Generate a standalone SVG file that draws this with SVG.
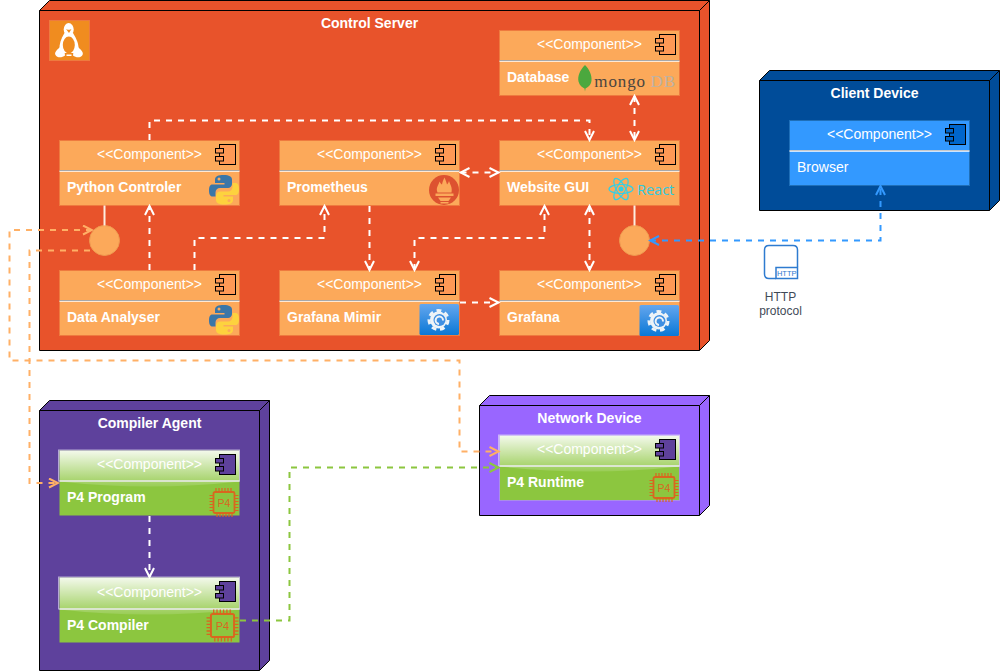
<svg xmlns="http://www.w3.org/2000/svg" width="1000" height="671" viewBox="0 0 1000 671">
<style>
text{font-family:"Liberation Sans",Arial,sans-serif;font-size:14px;fill:#fff}
.title{font-weight:bold;text-anchor:middle}
.stereo{text-anchor:middle}
.name{font-weight:bold}
.cube{stroke:#000;stroke-width:1;stroke-linejoin:miter}
.box{stroke-width:1}
.orange{fill:#fca95a;stroke:#ee7a3f}
.blue{fill:#3399ff;stroke:#1f6fb8}
.div{stroke:#a8a8a8;stroke-width:1}
.div2{stroke:#fff;stroke-width:1;opacity:.75}
.conn{fill:none;stroke-width:2;stroke-dasharray:6 6}
.w{stroke:#fff}.o{stroke:#ffb066}.b{stroke:#3399ff}.g{stroke:#8cc63f}
.lolli{fill:#fca95a;stroke:#ee9a50}
.stem{stroke:#fdeee0;stroke-width:2;fill:none}
</style>
<defs>
<marker id="aw" viewBox="-1 -1 13 11" refX="10" refY="4.500" markerWidth="13" markerHeight="11" markerUnits="userSpaceOnUse" orient="auto-start-reverse"><path d="M1 0L10 4.500L1 9" fill="none" stroke="#fff" stroke-width="2"/></marker>
<marker id="ao" viewBox="-1 -1 13 11" refX="10" refY="4.500" markerWidth="13" markerHeight="11" markerUnits="userSpaceOnUse" orient="auto-start-reverse"><path d="M1 0L10 4.500L1 9" fill="none" stroke="#ffb066" stroke-width="2"/></marker>
<marker id="ab" viewBox="-1 -1 13 11" refX="10" refY="4.500" markerWidth="13" markerHeight="11" markerUnits="userSpaceOnUse" orient="auto-start-reverse"><path d="M1 0L10 4.500L1 9" fill="none" stroke="#3399ff" stroke-width="2"/></marker>
<marker id="ag" viewBox="-1 -1 13 11" refX="10" refY="4.500" markerWidth="13" markerHeight="11" markerUnits="userSpaceOnUse" orient="auto-start-reverse"><path d="M1 0L10 4.500L1 9" fill="none" stroke="#8cc63f" stroke-width="2"/></marker>
<linearGradient id="glass" x1="0" y1="0" x2="0" y2="1"><stop offset="0" stop-color="#fff" stop-opacity=".9"/><stop offset="1" stop-color="#fff" stop-opacity=".12"/></linearGradient>
<linearGradient id="graf" x1="0" y1="0" x2="0" y2="1"><stop offset="0" stop-color="#64a6ee"/><stop offset="1" stop-color="#0a78d6"/></linearGradient>
<g id="icon"><rect x="160" y="4" width="16" height="20" stroke="#000" stroke-width="1"/><rect x="156" y="8" width="8" height="4.500" stroke="#000" stroke-width="1"/><rect x="156" y="16" width="8" height="4.500" stroke="#000" stroke-width="1"/></g>
<g id="python">
<path d="M15 0C9 0 6 1.300 6 4.500V8H15.500V9.500H3.500C.8 9.500 0 12 0 15.500S1 21.500 3.500 21.500H6.500V17.500C6.500 14.800 8.500 13 11 13H19C21.200 13 23 11.300 23 9V4.500C23 1.500 20 0 15 0Z" fill="#3a76a8"/>
<circle cx="10" cy="4" r="1.500" fill="#fca95a"/>
<path d="M15 29.500C21 29.500 24 28.200 24 25V21.500H14.500V20H26.500C29.200 20 30 17.500 30 14S29 8 26.500 8H23.500V12C23.500 14.700 21.500 16.500 19 16.500H11C8.800 16.500 7 18.200 7 20.500V25C7 28 10 29.500 15 29.500Z" fill="#fdd23e"/>
<circle cx="20" cy="25.500" r="1.500" fill="#fca95a"/>
</g>
<g id="grafana">
<rect width="39.500" height="31" rx="1.500" fill="url(#graf)"/>
<circle cx="19" cy="16" r="8.500" fill="#eef3f7"/>
<circle cx="19" cy="16" r="9.500" fill="none" stroke="#eef3f7" stroke-width="3" stroke-dasharray="4.800 3.700"/>
<circle cx="20" cy="16" r="6" fill="#3f8fe2"/>
<path d="M23.500 16.500A3.700 3.700 0 1 0 19.500 20" fill="none" stroke="#eef3f7" stroke-width="2"/>
</g>
<g id="chip">
<rect x="4.500" y="4.500" width="21" height="21" rx="1.500" fill="none" stroke="#d9661f" stroke-width="1.800"/>
<path d="M7 0.500V4M10 0.500V4M13 0.500V4M16 0.500V4M19 0.500V4M22 0.500V4M8 26V29.500M11 26V29.500M14 26V29.500M17 26V29.500M20 26V29.500M23 26V29.500M0.500 8H4M0.500 11H4M0.500 14H4M0.500 17H4M0.500 20H4M0.500 23H4M26 8H29.500M26 11H29.500M26 14H29.500M26 17H29.500M26 20H29.500M26 23H29.500" fill="none" stroke="#d9661f" stroke-width="1.200"/>
</g>
</defs>

<g id="control-server">
<path class="cube" fill="#e8532b" d="M39.500 10.500L49.500 .5H709.500V340.500L699.500 350.500H39.500Z"/>
<path class="cube" fill="none" d="M39.500 10.500H699.500V350.500M699.500 10.500L709.500 .5"/>
<text class="title" x="369.500" y="28">Control Server</text>
<g id="linux-logo">
<rect x="49.500" y="20.500" width="40" height="40" fill="#f08c1f" stroke="#ee7a3f"/>
<ellipse cx="68.700" cy="29.500" rx="5" ry="6.500" fill="#fff"/>
<path d="M64.500 33C61 39 59 44 59.500 50L64 53H74L78.500 50C79 44 76.500 39 73 33Z" fill="#fff"/>
<ellipse cx="68.800" cy="45" rx="6" ry="8.500" fill="#f08c1f"/>
<path d="M61 46C57 50 54 52 55.500 55C57 58 62 58 65 55.500C65 52 63 48 61 46Z" fill="#fff"/>
<path d="M77 46C81 50 84 52 82.500 55C81 58 76 58 73 55.500C73 52 75 48 77 46Z" fill="#fff"/>
<rect x="66.500" y="54.500" width="5" height="1.500" fill="#fff"/>
<path d="M66 29C67 30 70.500 30 71.500 29L69 33Z" fill="#f08c1f"/>
</g>
<g id="database" transform="translate(499.500 30.500)">
<rect class="box orange" width="180" height="65"/>
<line class="div" x1="0" x2="180" y1="30" y2="30"/><line class="div2" x1="0" x2="180" y1="31" y2="31"/>
<text class="stereo" x="90" y="18.500">&lt;&lt;Component&gt;&gt;</text>
<use href="#icon" fill="#ff9955"/>
<text class="name" x="7.500" y="51.500">Database</text>
<path d="M85.500 34.500C80 40 78 46 79 51C80 55 83 57 85 58L85.500 61L86 58C88 57 91.500 55 92 50C92.500 45 90 39 85.500 34.500Z" fill="#4ba83e"/>
<text x="94.800" y="56.500" style="font-family:'Liberation Serif',serif;font-size:17px;letter-spacing:.9px;fill:#4a4540">mongo</text>
<text x="151" y="56.500" style="font-family:'Liberation Serif',serif;font-size:17px;letter-spacing:.9px;fill:#bdb2a3">DB</text>
</g>
<g id="python-controler" transform="translate(59.500 140.500)">
<rect class="box orange" width="180" height="65"/>
<line class="div" x1="0" x2="180" y1="30" y2="30"/><line class="div2" x1="0" x2="180" y1="31" y2="31"/>
<text class="stereo" x="90" y="18.500">&lt;&lt;Component&gt;&gt;</text>
<use href="#icon" fill="#ff9955"/>
<text class="name" x="7.500" y="51.500">Python Controler</text>
<use href="#python" x="149.500" y="34.500"/>
</g>
<g id="prometheus" transform="translate(279.500 140.500)">
<rect class="box orange" width="180" height="65"/>
<line class="div" x1="0" x2="180" y1="30" y2="30"/><line class="div2" x1="0" x2="180" y1="31" y2="31"/>
<text class="stereo" x="90" y="18.500">&lt;&lt;Component&gt;&gt;</text>
<use href="#icon" fill="#ff9955"/>
<text class="name" x="7.500" y="51.500">Prometheus</text>
<circle cx="164.500" cy="49.500" r="15" fill="#dd5230"/>
<path d="M158 52C156 47 159 45 160 41C161 43 162 44 162.500 44C163 41 164 39 165 37C166 39 167 42 167.500 44C168.500 43 169 42 169.500 40.500C171 45 173 47 172 52Z" fill="#fca95a"/>
<rect x="156" y="53" width="18" height="2.500" fill="#fca95a"/>
<path d="M158.500 57H171.500L169 60.500H161Z" fill="#fca95a"/>
<rect x="161" y="61.500" width="8" height="1.500" fill="#fca95a"/>
</g>
<g id="website-gui" transform="translate(499.500 140.500)">
<rect class="box orange" width="180" height="65"/>
<line class="div" x1="0" x2="180" y1="30" y2="30"/><line class="div2" x1="0" x2="180" y1="31" y2="31"/>
<text class="stereo" x="90" y="18.500">&lt;&lt;Component&gt;&gt;</text>
<use href="#icon" fill="#ff9955"/>
<text class="name" x="7.500" y="51.500">Website GUI</text>
<g fill="none" stroke="#2fd0e8" stroke-width="1.200">
<ellipse cx="121.500" cy="48.500" rx="12" ry="4.500"/>
<ellipse cx="121.500" cy="48.500" rx="12" ry="4.500" transform="rotate(60 121.500 48.500)"/>
<ellipse cx="121.500" cy="48.500" rx="12" ry="4.500" transform="rotate(120 121.500 48.500)"/>
</g>
<circle cx="121.500" cy="48.500" r="2.500" fill="#2fd0e8"/>
<text x="137.500" y="54" style="font-family:'Open Sans',sans-serif;font-size:14.500px;fill:#2fcbe0">React</text>
</g>
<g id="data-analyser" transform="translate(59.500 270.500)">
<rect class="box orange" width="180" height="65"/>
<line class="div" x1="0" x2="180" y1="30" y2="30"/><line class="div2" x1="0" x2="180" y1="31" y2="31"/>
<text class="stereo" x="90" y="18.500">&lt;&lt;Component&gt;&gt;</text>
<use href="#icon" fill="#ff9955"/>
<text class="name" x="7.500" y="51.500">Data Analyser</text>
<use href="#python" x="149.500" y="34.500"/>
</g>
<g id="grafana-mimir" transform="translate(279.500 270.500)">
<rect class="box orange" width="180" height="65"/>
<line class="div" x1="0" x2="180" y1="30" y2="30"/><line class="div2" x1="0" x2="180" y1="31" y2="31"/>
<text class="stereo" x="90" y="18.500">&lt;&lt;Component&gt;&gt;</text>
<use href="#icon" fill="#ff9955"/>
<text class="name" x="7.500" y="51.500">Grafana Mimir</text>
<use href="#grafana" x="140" y="33.500"/>
</g>
<g id="grafana-node" transform="translate(499.500 270.500)">
<rect class="box orange" width="180" height="65"/>
<line class="div" x1="0" x2="180" y1="30" y2="30"/><line class="div2" x1="0" x2="180" y1="31" y2="31"/>
<text class="stereo" x="90" y="18.500">&lt;&lt;Component&gt;&gt;</text>
<use href="#icon" fill="#ff9955"/>
<text class="name" x="7.500" y="51.500">Grafana</text>
<use href="#grafana" x="140" y="34.500"/>
</g>
<circle id="python-interface" class="lolli" cx="104.500" cy="240.500" r="15"/>
<circle id="gui-interface" class="lolli" cx="634.500" cy="240.500" r="15"/>
</g>

<g id="client-device">
<path class="cube" fill="#004c99" d="M759.500 80.500L769.500 70.500H999.500V200.500L989.500 210.500H759.500Z"/>
<path class="cube" fill="none" d="M759.500 80.500H989.500V210.500M989.500 80.500L999.500 70.500"/>
<text class="title" x="874.500" y="98">Client Device</text>
<g id="browser" transform="translate(789.500 120.500)">
<rect class="box blue" width="180" height="65"/>
<line class="div" x1="0" x2="180" y1="30" y2="30" style="stroke:#c9c9c9"/><line class="div2" x1="0" x2="180" y1="31" y2="31"/>
<text class="stereo" x="90" y="18.500">&lt;&lt;Component&gt;&gt;</text>
<use href="#icon" fill="#0066cc"/>
<text x="7.500" y="51.500">Browser</text>
</g>
</g>

<g id="http-protocol">
<path d="M776 278.500H769C766 278.500 764.500 277 764.500 274V250C764.500 247 766 245.500 769 245.500H793C796 245.500 797.500 247 797.500 250V267" fill="none" stroke="#2e7bd0" stroke-width="1.500"/>
<rect x="776" y="267.500" width="21.500" height="11" fill="#fff" stroke="#2e7bd0" stroke-width="1.500"/>
<text x="786.700" y="276" text-anchor="middle" style="font-size:7.500px;fill:#2e7bd0">HTTP</text>
<text x="780.500" y="301" text-anchor="middle" style="font-size:12px;fill:#3f4a57">HTTP</text>
<text x="780.500" y="315" text-anchor="middle" style="font-size:12px;fill:#3f4a57">protocol</text>
</g>

<g id="compiler-agent">
<path class="cube" fill="#5e419c" d="M39.500 410.500L49.500 400.500H269.500V660.500L259.500 670.500H39.500Z"/>
<path class="cube" fill="none" d="M39.500 410.500H259.500V670.500M259.500 410.500L269.500 400.500"/>
<text class="title" x="149.500" y="428">Compiler Agent</text>
<g id="p4-program" transform="translate(59.500 450.500)">
<rect width="180" height="65" fill="#8cc63f"/>
<path d="M0 0H180V31Q90 41 0 31Z" fill="url(#glass)"/>
<rect x="-1" y="-.5" width="181" height="31" fill="none" stroke="#c9c0e4" stroke-width="1" opacity=".8"/>
<line class="div2" x1="0" x2="180" y1="30.500" y2="30.500" style="opacity:1"/>
<text class="stereo" x="90" y="18.500">&lt;&lt;Component&gt;&gt;</text>
<use href="#icon" fill="#5e419c"/>
<text class="name" x="7.500" y="51.500">P4 Program</text>
<use href="#chip" x="149.500" y="37"/>
<text x="164.500" y="56" text-anchor="middle" style="font-size:10.500px;fill:#d9661f">P4</text>
</g>
<g id="p4-compiler" transform="translate(59.500 578.500)">
<rect y="-1" width="180" height="65" fill="#8cc63f"/>
<path d="M0 -1H180V31Q90 41 0 31Z" fill="url(#glass)"/>
<rect x="-1" y="-1.500" width="181" height="32" fill="none" stroke="#c9c0e4" stroke-width="1" opacity=".8"/>
<line class="div2" x1="0" x2="180" y1="30.500" y2="30.500" style="opacity:1"/>
<text class="stereo" x="90" y="18.500">&lt;&lt;Component&gt;&gt;</text>
<use href="#icon" y="-1" fill="#5e419c"/>
<text class="name" x="7.500" y="51.500">P4 Compiler</text>
<use href="#chip" transform="translate(146.500 30.500) scale(1.100)"/>
<text x="163" y="51.500" text-anchor="middle" style="font-size:11px;fill:#d9661f">P4</text>
</g>
</g>

<g id="network-device">
<path class="cube" fill="#9966ff" d="M479.500 405.500L489.500 395.500H709.500V505.500L699.500 515.500H479.500Z"/>
<path class="cube" fill="none" d="M479.500 405.500H699.500V515.500M699.500 405.500L709.500 395.500"/>
<text class="title" x="589.500" y="423">Network Device</text>
<g id="p4-runtime" transform="translate(499.500 435.500)">
<rect width="180" height="65" fill="#8cc63f" stroke="#a98de8"/>
<path d="M0 0H180V31Q90 41 0 31Z" fill="url(#glass)"/>
<rect x="-1" y="-.5" width="181" height="31" fill="none" stroke="#d5c4f8" stroke-width="1" opacity=".8"/>
<line class="div2" x1="0" x2="180" y1="30.500" y2="30.500" style="opacity:1"/>
<text class="stereo" x="90" y="18.500">&lt;&lt;Component&gt;&gt;</text>
<use href="#icon" fill="#5e419c"/>
<text class="name" x="7.500" y="51.500">P4 Runtime</text>
<use href="#chip" x="149.500" y="37"/>
<text x="164.500" y="56" text-anchor="middle" style="font-size:10.500px;fill:#d9661f">P4</text>
</g>
</g>

<g id="connectors">
<path class="stem" d="M104.500 205.500V225.500"/>
<path class="stem" d="M634.500 205.500V225.500"/>
<path class="conn w" marker-end="url(#aw)" d="M149.500 140V120.500H589.500V140"/>
<path class="conn w" marker-start="url(#aw)" marker-end="url(#aw)" d="M634.500 96V140"/>
<path class="conn w" marker-start="url(#aw)" marker-end="url(#aw)" d="M460.500 172.500H498.500"/>
<path class="conn w" marker-end="url(#aw)" d="M369.500 206V270"/>
<path class="conn w" marker-start="url(#aw)" marker-end="url(#aw)" d="M414.500 270V238H544.500V206"/>
<path class="conn w" marker-start="url(#aw)" marker-end="url(#aw)" d="M589.500 206V270"/>
<path class="conn w" marker-end="url(#aw)" d="M460 302.500H498.500"/>
<path class="conn w" marker-end="url(#aw)" d="M149.500 270V206"/>
<path class="conn w" marker-end="url(#aw)" d="M194.500 270V238H324.500V206"/>
<path class="conn w" marker-end="url(#aw)" d="M149.500 516V577"/>
<path class="conn o" marker-end="url(#ao)" d="M90 250.500H29.500V483H58"/>
<path class="conn o" marker-start="url(#ao)" marker-end="url(#ao)" d="M92 230H9.500V360.500H459.500V451.500H498.500"/>
<path class="conn b" marker-start="url(#ab)" marker-end="url(#ab)" d="M650 240.500H880.500V186"/>
<path class="conn g" marker-end="url(#ag)" d="M240 620.500H289.500V467.500H498.500"/>
</g>
</svg>
